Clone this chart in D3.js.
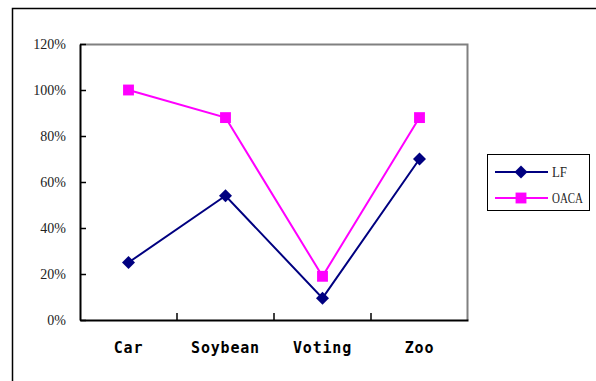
<!DOCTYPE html>
<html>
<head>
<meta charset="utf-8">
<script src="https://cdn.jsdelivr.net/npm/d3@7"></script>
<style>
  html, body { margin: 0; padding: 0; background: #fff; }
  svg { display: block; }
</style>
</head>
<body>
<svg id="chart" width="596" height="381"></svg>
<script>
// Datasets and accuracy of the two methods
const categories = ["Car", "Soybean", "Voting", "Zoo"];
const lfValues   = [0.25, 0.54, 0.095, 0.70];
const oacaValues = [1.00, 0.88, 0.19, 0.88];
const yTicks     = [0, 0.2, 0.4, 0.6, 0.8, 1.0, 1.2];
const seriesNames = ["LF", "OACA"];

const svg = d3.select("#chart");
const plot = { left: 80, top: 44, right: 468, bottom: 320 };

// Chart area frame (runs past the right and bottom edges)
svg.append("rect")
  .attr("x", 12.5).attr("y", 8.5)
  .attr("width", 620).attr("height", 420)
  .attr("fill", "#fff").attr("stroke", "#000").attr("stroke-width", 1.5);

const x = d3.scaleBand().domain(categories).range([plot.left, plot.right]);
const y = d3.scaleLinear().domain([0, 1.2]).range([plot.bottom, plot.top]);

// Plot area border: grey top/right
svg.append("path")
  .attr("d", `M${plot.left},${plot.top + 0.5}H${plot.right - 0.5}V${plot.bottom}`)
  .attr("fill", "none").attr("stroke", "#808080").attr("stroke-width", 2);

// Y axis, ticks pointing inward
const yAxis = d3.axisLeft(y).tickValues(yTicks)
  .tickFormat(d3.format(".0%")).tickSizeInner(-6).tickSizeOuter(0).tickPadding(14);
const gy = svg.append("g").attr("transform", `translate(${plot.left},0)`).call(yAxis);
gy.select(".domain").attr("stroke", "#000").attr("stroke-width", 2);
gy.selectAll(".tick line").attr("stroke", "#000").attr("stroke-width", 1.5);
gy.selectAll(".tick text")
  .attr("font-family", "'Liberation Serif', 'DejaVu Serif', serif")
  .attr("font-size", 14).attr("fill", "#222");

// X axis: tick marks between categories, labels centred in bands
const xAxis = d3.axisBottom(x).tickSize(0).tickPadding(22);
const gx = svg.append("g").attr("transform", `translate(0,${plot.bottom})`).call(xAxis);
gx.select(".domain").attr("stroke", "#000").attr("stroke-width", 2);
gx.selectAll(".tick text")
  .attr("font-family", "'DejaVu Sans Mono', monospace")
  .attr("font-weight", "bold")
  .attr("font-size", 15)
  .attr("letter-spacing", "0.8px")
  .attr("fill", "#000");
svg.append("g").selectAll("line")
  .data(categories.slice(1))
  .join("line")
  .attr("x1", d => x(d)).attr("x2", d => x(d))
  .attr("y1", plot.bottom).attr("y2", plot.bottom - 7)
  .attr("stroke", "#000").attr("stroke-width", 1.5);

const cx = c => x(c) + x.bandwidth() / 2;
const line = d3.line().x((d, i) => cx(categories[i])).y(d => y(d));

const navy = "#000080", magenta = "#FF00FF";
// Diamond = square turned 45 degrees
const diamond = d3.symbol().type(d3.symbolSquare).size(84);
const square = d3.symbol().type(d3.symbolSquare).size(118);

function drawSeries(values, color, symbolGen, rot) {
  svg.append("path").datum(values)
    .attr("d", line).attr("fill", "none")
    .attr("stroke", color).attr("stroke-width", 2);
  svg.append("g").selectAll("path")
    .data(values)
    .join("path")
    .attr("transform", (d, i) => `translate(${cx(categories[i])},${y(d)}) rotate(${rot})`)
    .attr("d", symbolGen)
    .attr("fill", color);
}
drawSeries(oacaValues, magenta, square, 0);
drawSeries(lfValues, navy, diamond, 45);

// Legend
const legend = svg.append("g");
legend.append("rect")
  .attr("x", 487.5).attr("y", 154.5).attr("width", 102).attr("height", 56)
  .attr("fill", "#fff").attr("stroke", "#000").attr("stroke-width", 1);
const legendItems = [
  { name: seriesNames[0], color: navy, sym: diamond, rot: 45, y: 172, w: 15 },
  { name: seriesNames[1], color: magenta, sym: square, rot: 0, y: 198, w: 31 }
];
legendItems.forEach(it => {
  legend.append("line")
    .attr("x1", 495).attr("x2", 548).attr("y1", it.y).attr("y2", it.y)
    .attr("stroke", it.color).attr("stroke-width", 2);
  legend.append("path")
    .attr("transform", `translate(521,${it.y}) rotate(${it.rot})`)
    .attr("d", it.sym).attr("fill", it.color);
  legend.append("text")
    .attr("x", 552).attr("y", it.y).attr("dy", "0.35em")
    .attr("font-family", "'Liberation Serif', 'DejaVu Serif', serif")
    .attr("font-size", 15.5).attr("fill", "#222")
    .attr("textLength", it.w).attr("lengthAdjust", "spacingAndGlyphs")
    .text(it.name);
});
</script>
</body>
</html>
